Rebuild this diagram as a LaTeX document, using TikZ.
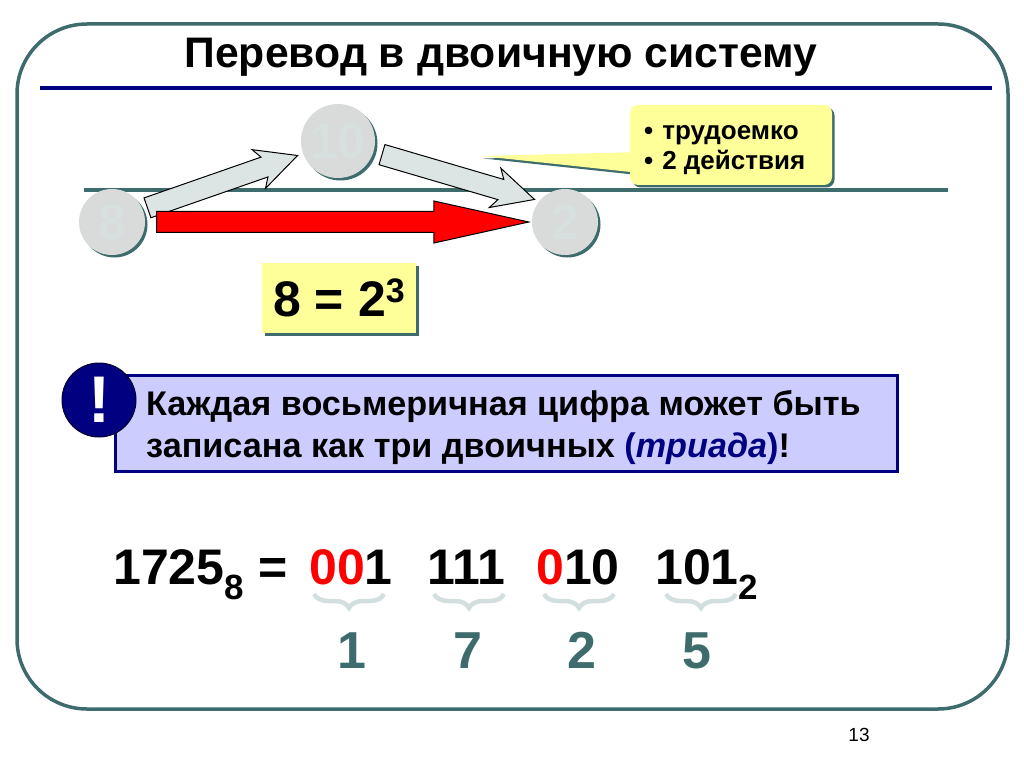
\documentclass[tikz,border=0pt]{standalone}
\usepackage{fontspec}
\setmainfont{Liberation Sans}
\usetikzlibrary{shapes.arrows, shadows, decorations.pathreplacing}
\definecolor{tealdk}{HTML}{3E6B6B}
\definecolor{navyblue}{HTML}{000080}
\definecolor{paleyel}{HTML}{FFFF99}
\definecolor{palelil}{HTML}{CCCCFF}
\definecolor{palegray}{HTML}{D9DADA}
\definecolor{ghost}{HTML}{D8DFDF}
\definecolor{bracecol}{HTML}{D3DEDE}
\definecolor{arrowfill}{HTML}{DCE4E4}
\tikzset{
  % --- Khung ----------------------------------------------
  slideframe/.style={draw=tealdk, line width=3.5pt, rounded corners=70pt},
  titlerule/.style={draw=navyblue, line width=4pt},
  baseline/.style={draw=tealdk, line width=4pt},
  titletxt/.style={font=\fontsize{42.7}{50}\selectfont\bfseries, inner sep=0pt},
  pagenum/.style={font=\fontsize{19}{22}\selectfont, inner sep=0pt},
  % --- Hinh tron va mui ten --------------------------------
  tealshadow/.style={drop shadow={shadow xshift=2.5pt, shadow yshift=-2.5pt,
    fill=tealdk, opacity=1}},
  basenode/.style={circle, fill=palegray, tealshadow, text=ghost, inner sep=0pt,
    font=\fontsize{50}{60}\selectfont\bfseries},
  grayarrow/.style={draw=black, line width=1pt, fill=arrowfill, single arrow,
    minimum width=40pt, minimum height=159pt, single arrow head extend=10pt,
    single arrow tip angle=53, single arrow head indent=6pt,
    inner xsep=0pt, inner ysep=10pt, pos=0, anchor=tail, sloped},
  redarrow/.style={draw=black, line width=1pt, fill=red, single arrow,
    minimum width=41pt, minimum height=372pt, single arrow head extend=10.5pt,
    single arrow tip angle=25, inner xsep=0pt, inner ysep=10pt, pos=0, anchor=tail},
  % --- O chu --------------------------------------------------
  notebox/.style={fill=paleyel, tealshadow, rounded corners=8pt, inner sep=0pt,
    minimum width=202pt, minimum height=80pt},
  notetxt/.style={font=\fontsize{26}{30}\selectfont\bfseries, align=left, inner sep=0pt},
  powerbox/.style={fill=paleyel, tealshadow, inner sep=0pt, minimum width=154pt,
    minimum height=70pt, font=\fontsize{50}{60}\selectfont\bfseries},
  rulebox/.style={draw=navyblue, line width=3pt, fill=palelil, minimum width=782pt,
    minimum height=96pt, inner sep=0pt},
  ruletxt/.style={font=\fontsize{34.2}{42}\selectfont\bfseries, align=left, inner sep=0pt},
  bangnode/.style={circle, fill=navyblue, draw=black!70!navyblue, line width=1pt,
    minimum size=74pt, inner sep=0pt, text=white,
    font=\fontsize{66}{70}\selectfont\bfseries},
  % --- Day so ---------------------------------------------------
  numtxt/.style={font=\fontsize{50}{60}\selectfont\bfseries, inner sep=0pt, anchor=base west},
  digitxt/.style={font=\fontsize{52}{60}\selectfont\bfseries, text=tealdk, inner sep=0pt, anchor=base},
  bracepath/.style={draw=bracecol, line width=4.5pt, decorate,
    decoration={brace, amplitude=14pt, mirror}}
}

\begin{document}
\begin{tikzpicture}[x=1pt, y=-1pt]

  \useasboundingbox (0,0) rectangle (1024,767);

  % --- Khung va tieu de --------------------------------------------
  \draw[slideframe] (17,24) rectangle (1008,709);
  \node[titletxt] (title) at (501,57) {Перевод в двоичную систему};
  \draw[titlerule] (40,88) -- (992,88);
  \node[pagenum] (pagenr) at (859,735) {13};

  \draw[baseline] (84,190) -- (948,190);

  % --- Ba hinh tron ---------------------------------------------------
  \node[basenode, minimum size=66pt] (n8) at (112,222) {8};
  \node[basenode, minimum size=74pt] (n10) at (338,141) {10};
  \node[basenode, minimum size=66pt] (n2) at (565,222) {2};

  % --- Mui ten -----------------------------------------------------------
  \coordinate (a1s) at (147,208);
  \coordinate (a1e) at (299,155);
  \coordinate (a2s) at (381.5,154.5);
  \coordinate (a2e) at (533,199);
  \path (a1s) -- node[grayarrow] (arrup) {} (a1e);
  \path (a2s) -- node[grayarrow] (arrdown) {} (a2e);
  \path (n8) -- node[redarrow, xshift=11pt] (arrdirect) {} (n2);

  % --- Chu thich ------------------------------------------------------
  \coordinate (tailtip) at (481,156);
  \coordinate (tailtop) at (640,152);
  \coordinate (tailbot) at (640,173);
  \path[fill=paleyel, tealshadow] (tailtip) -- (tailtop) -- (tailbot) -- cycle;
  \node[notebox] (note) at (731,145) {};
  \node[notetxt, anchor=west] (notetext) at (644,150) {•\hspace{9pt}трудоемко\\•\hspace{9pt}2 действия};

  \node[powerbox] (power) at (339,298) {8 = 2\raisebox{14pt}{\fontsize{34}{34}\selectfont 3}};

  % --- O quy tac ---------------------------------------------------------
  \node[rulebox] (rule) at (506,423) {};
  \node[bangnode] (bang) at (99,400) {!};
  \node[ruletxt, anchor=west] (ruletext) at (146,427.5) {Каждая восьмеричная цифра может быть\\
    записана как три двоичных \textcolor{navyblue}{(\textit{триада})}!};

  % --- Day so ----------------------------------------------------------
  \node[numtxt] (oct) at (113,584) {1725\textsubscript{8} =};
  \node[numtxt] (tri1) at (309,584) {\textcolor{red}{00}1};
  \node[numtxt] (tri2) at (427,584) {111};
  \node[numtxt] (tri3) at (536,584) {\textcolor{red}{0}10};
  \node[numtxt] (tri4) at (655,584) {101\textsubscript{2}};

  \foreach \nm/\xa/\xb/\xv/\val in {b1/314/384/352/1, b2/434/504/468/7, b3/544/614/582/2, b4/666/736/697/5} {
    \draw[bracepath] (\xa,594) -- (\xb,594);
    \node[digitxt] (\nm) at (\xv,668) {\val};
  }

\end{tikzpicture}
\end{document}
